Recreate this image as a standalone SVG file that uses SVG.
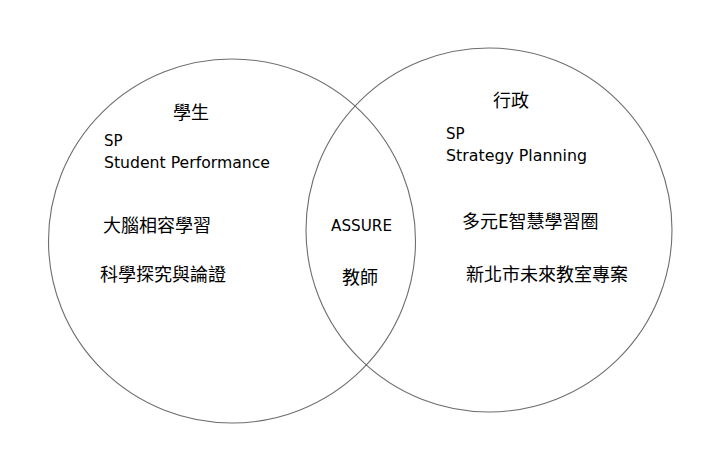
<svg xmlns="http://www.w3.org/2000/svg" width="720" height="451" viewBox="0 0 720 451">
<style>
.c{fill:none;stroke:#6e6e6e;stroke-width:1.1}
.l{font-family:"DejaVu Sans","Liberation Sans",sans-serif;font-size:15px;fill:#000}
.z{font-family:"Noto Sans CJK TC","Noto Sans CJK SC",sans-serif;font-size:18px;fill:#000}
</style>
<rect width="720" height="451" fill="#fff"/>
<g id="student">
<ellipse class="c" cx="232" cy="241" rx="183.5" ry="182"/>
<text class="z" x="173" y="119">學生</text>
<text class="l" x="104" y="146">SP</text>
<text class="l" x="104" y="168" textLength="166" lengthAdjust="spacingAndGlyphs">Student Performance</text>
<text class="z" x="103" y="232">大腦相容學習</text>
<text class="z" x="100" y="281">科學探究與論證</text>
</g>
<g id="admin">
<ellipse class="c" cx="489" cy="230" rx="183" ry="182"/>
<text class="z" x="493" y="107">行政</text>
<text class="l" x="446" y="139">SP</text>
<text class="l" x="446" y="161" textLength="141" lengthAdjust="spacingAndGlyphs">Strategy Planning</text>
<text class="z" x="462" y="228">多元E智慧學習圈</text>
<text class="z" x="466" y="281">新北市未來教室專案</text>
</g>
<g id="teacher">
<text class="l" x="331" y="231" textLength="61" lengthAdjust="spacingAndGlyphs">ASSURE</text>
<text class="z" x="342" y="284">教師</text>
</g>
<g id="connectors"></g>
</svg>
